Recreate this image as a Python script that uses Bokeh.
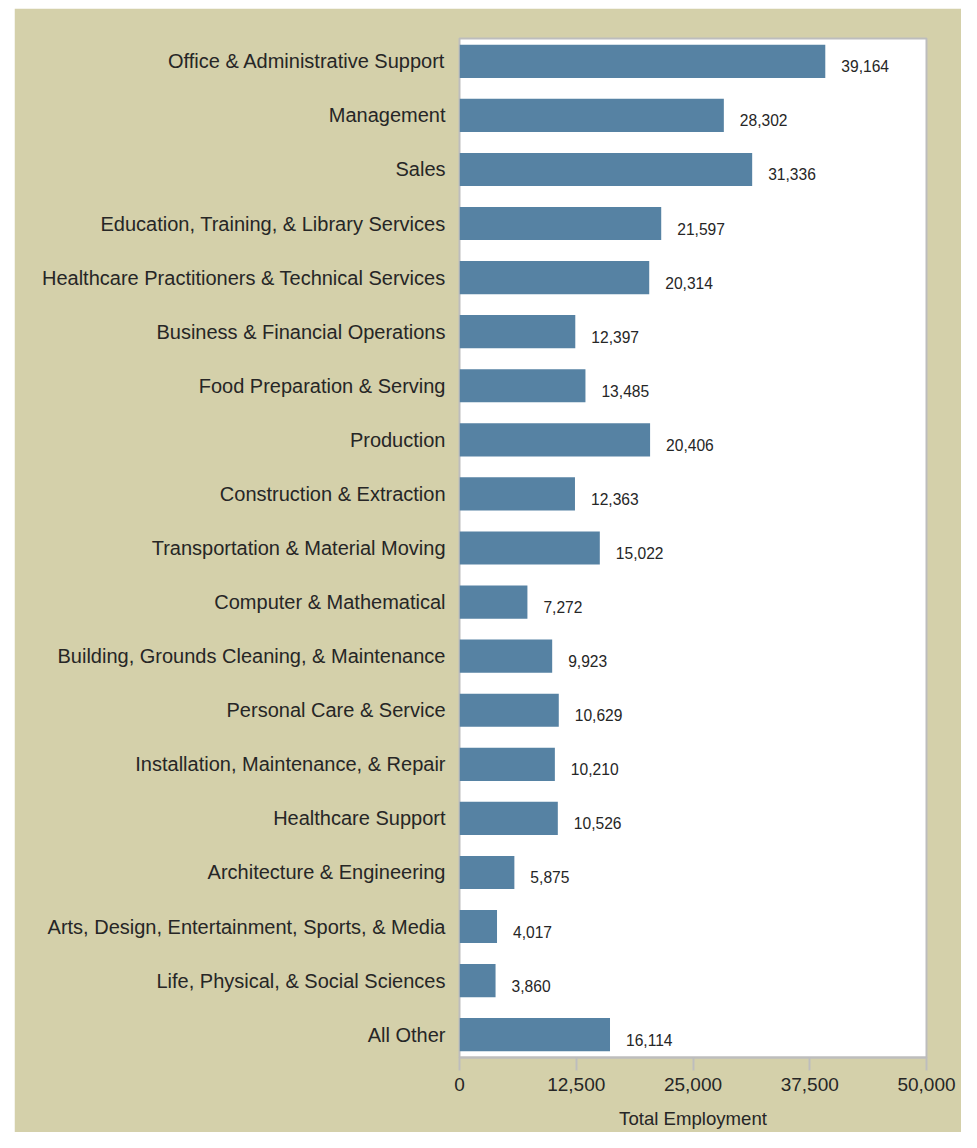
from bokeh.plotting import figure
from bokeh.models import FactorRange, FixedTicker, NumeralTickFormatter, ColumnDataSource, Spacer
from bokeh.layouts import row, column
from bokeh.embed import file_html
from bokeh.resources import INLINE
from bokeh.core.properties import value

categories = [
    "Office & Administrative Support",
    "Management",
    "Sales",
    "Education, Training, & Library Services",
    "Healthcare Practitioners & Technical Services",
    "Business & Financial Operations",
    "Food Preparation & Serving",
    "Production",
    "Construction & Extraction",
    "Transportation & Material Moving",
    "Computer & Mathematical",
    "Building, Grounds Cleaning, & Maintenance",
    "Personal Care & Service",
    "Installation, Maintenance, & Repair",
    "Healthcare Support",
    "Architecture & Engineering",
    "Arts, Design, Entertainment, Sports, & Media",
    "Life, Physical, & Social Sciences",
    "All Other",
]
employment = [39164, 28302, 31336, 21597, 20314, 12397, 13485, 20406, 12363,
              15022, 7272, 9923, 10629, 10210, 10526, 5875, 4017, 3860, 16114]
x_ticks = [0, 12500, 25000, 37500, 50000]
x_title = "Total Employment"

TAN = "#d4d0aa"
BAR = "#5682a3"
TXT = "#262626"
FONT = "Liberation Sans"

src = ColumnDataSource(dict(
    cat=categories,
    val=employment,
    lbl=[f"{v:,}" for v in employment],
))

yr = FactorRange(factors=list(reversed(categories)), range_padding=-0.078,
                 range_padding_units="absolute")

p = figure(y_range=yr, x_range=(0, 50000), width=947, height=1124,
           output_backend="svg", toolbar_location=None,
           min_border_left=445, min_border_right=35, min_border_top=30,
           min_border_bottom=75)

p.hbar(y="cat", right="val", left=0, height=0.613, source=src,
       fill_color=BAR, line_color=None)
p.text(x="val", y="cat", text="lbl", source=src, x_offset=16, y_offset=5,
       text_baseline="middle", text_align="left", text_font_size="15.6px",
       text_font=value(FONT), text_color=TXT)

p.background_fill_color = "white"
p.border_fill_color = TAN
p.outline_line_color = "#bdbdbd"
p.outline_line_width = 2
p.xgrid.visible = False
p.ygrid.visible = False

xa = p.xaxis[0]
xa.ticker = FixedTicker(ticks=x_ticks)
xa.formatter = NumeralTickFormatter(format="0,0")
xa.axis_line_color = "#bdbdbd"
xa.axis_line_width = 2
xa.major_tick_line_color = "#bdbdbd"
xa.major_tick_line_width = 2
xa.major_tick_in = 0
xa.major_tick_out = 13
xa.minor_tick_line_color = None
xa.major_label_text_font = FONT
xa.major_label_text_font_size = "19px"
xa.major_label_text_color = TXT
xa.major_label_standoff = 7
xa.axis_label = x_title
xa.axis_label_text_font = FONT
xa.axis_label_text_font_size = "18.6px"
xa.axis_label_text_font_style = "normal"
xa.axis_label_text_color = TXT
xa.axis_label_standoff = 14

ya = p.yaxis[0]
ya.axis_line_color = None
ya.major_tick_line_color = None
ya.minor_tick_line_color = None
ya.major_label_text_font = FONT
ya.major_label_text_font_size = "20px"
ya.major_label_text_color = TXT
ya.major_label_standoff = 8

layout = column(Spacer(width=961, height=8),
                row(Spacer(width=14, height=1124), p, spacing=0),
                spacing=0)
open("out.html", "w").write(file_html(layout, INLINE))
